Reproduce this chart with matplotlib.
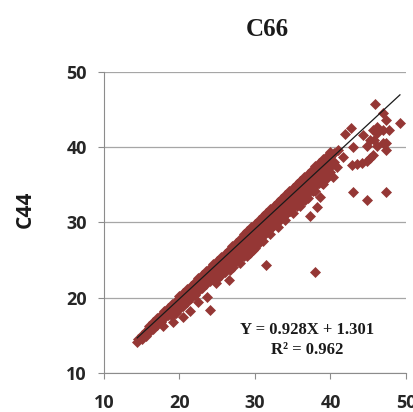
import numpy as np
import matplotlib
matplotlib.use('Agg')
import matplotlib.pyplot as plt

# dense band (upper row first)
band_x0 = [16, 16.5, 17, 17.5, 18, 18.5, 19, 19.5,
           20, 20.5, 21, 21.5, 22, 22.5, 23, 23.5, 24, 24.5, 25, 25.5, 26, 26.5, 27, 27.5,
           28, 28.5, 29, 29.5, 30, 30.5, 31, 31.5, 32, 32.5, 33, 33.5, 34, 34.5, 35, 35.5,
           36, 36.5, 37, 37.5, 38, 38.5, 39, 39.5, 40]
band_y0 = [16.30, 16.78, 17.25, 17.72, 18.20, 18.67, 19.14, 19.62,
           20.19, 20.66, 21.14, 21.61, 22.08, 22.56, 23.03, 23.50, 23.98, 24.45, 24.93, 25.40,
           25.87, 26.35, 26.82, 27.29, 27.77, 28.44, 28.91, 29.39, 29.86, 30.33, 30.81, 31.28,
           31.75, 32.23, 32.70, 33.17, 33.65, 34.12, 34.60, 35.07, 35.54, 36.02, 36.49, 36.96,
           37.44, 37.91, 38.38, 38.86, 39.33]

band_x1 = [14.5, 15, 15.5, 16, 16.5, 17, 17.5, 18, 18.5, 19, 19.5, 20, 20.5, 21, 21.5, 22,
           22.5, 23, 23.5, 24, 24.5, 25, 25.5, 26, 26.5, 27, 27.5, 28, 28.5, 29, 29.5, 30,
           30.5, 31, 31.5, 32, 32.5, 33, 33.5, 34, 34.5, 35, 35.5, 36, 36.5, 37, 37.5, 38,
           38.5, 39, 39.5, 40, 40.5, 41.0]
band_y1 = [14.58, 15.06, 15.53, 16.00, 16.48, 16.95, 17.42, 17.90, 18.37, 18.84, 19.32, 19.79,
           20.26, 20.74, 21.21, 21.68, 22.16, 22.63, 23.10, 23.58, 24.05, 24.53, 25.00, 25.47,
           25.95, 26.42, 26.89, 27.37, 27.84, 28.31, 28.79, 29.26, 29.73, 30.21, 30.68, 31.15,
           31.63, 32.10, 32.57, 33.05, 33.52, 34.00, 34.47, 34.94, 35.42, 35.89, 36.36, 36.84,
           37.31, 37.78, 38.26, 38.73, 39.2, 39.6]

band_x2 = [15, 15.5, 16, 16.5, 17, 17.5, 18, 18.5, 19, 19.5, 20, 20.5, 21, 21.5, 22, 22.5,
           23, 23.5, 24, 24.5, 25, 25.5, 26, 26.5, 27, 27.5, 28, 28.5, 29, 29.5, 30, 30.5,
           31, 31.5, 32, 32.5, 33, 33.5, 34, 34.5, 35, 35.5, 36, 36.5, 37, 37.5, 38, 38.5,
           39, 39.5, 40]
band_y2 = [14.46, 14.93, 15.40, 15.88, 16.35, 16.82, 17.30, 17.77, 18.24, 18.72, 19.19, 19.66,
           20.14, 20.61, 21.08, 21.56, 22.03, 22.50, 22.98, 23.45, 23.93, 24.40, 24.87, 25.35,
           25.82, 26.29, 26.77, 27.24, 27.71, 28.19, 28.66, 29.13, 29.61, 30.08, 30.55, 31.03,
           31.50, 31.97, 32.45, 32.92, 33.40, 33.87, 34.34, 34.82, 35.29, 35.76, 36.24, 36.71,
           37.18, 37.66, 38.13]

band_x3 = [19, 19.5, 20, 20.5, 21, 21.5, 22, 22.5, 23, 23.5, 24, 24.5, 25, 25.5, 26, 26.5,
           27, 27.5, 28, 28.5, 29, 29.5, 30, 30.5, 31, 31.5, 32, 32.5, 33, 33.5, 34, 34.5,
           35, 35.5, 36, 36.5, 37, 37.5, 38, 38.5, 39, 39.5, 40]
band_y3 = [17.54, 18.02, 18.49, 18.96, 19.44, 19.91, 20.38, 20.86, 21.33, 21.80, 22.28, 22.75,
           23.23, 23.70, 24.17, 24.65, 25.12, 25.59, 26.07, 26.54, 27.01, 27.49, 27.96, 28.43,
           28.91, 29.38, 29.85, 30.33, 30.80, 31.27, 31.75, 32.22, 32.70, 33.17, 33.64, 34.12,
           34.59, 35.06, 35.54, 36.01, 36.48, 36.96, 37.43]

band_x4 = [25, 25.5, 26, 26.5, 27, 27.5, 28, 28.5, 29, 29.5, 30, 30.5, 31, 31.5, 32, 32.5,
           33, 33.5, 34, 34.5, 35, 35.5, 36, 36.5, 37, 37.5, 38, 38.5, 39, 39.5, 40]
band_y4 = [22.53, 23.00, 23.47, 23.95, 24.42, 24.89, 25.37, 25.84, 26.31, 26.79, 27.26, 27.73,
           28.21, 28.68, 29.15, 29.63, 30.10, 30.57, 31.05, 31.52, 32.00, 32.47, 32.94, 33.42,
           33.89, 34.36, 34.84, 35.31, 35.78, 36.26, 36.73]

band_x5 = [28, 29, 30, 31, 32, 33, 34, 35, 36, 37, 38, 39]
band_y5 = [24.67, 25.61, 26.56, 27.51, 28.45, 29.40, 30.35, 31.30, 32.24, 33.19, 34.14, 35.08]

# steps on the lower edge of the band
step_x = [14.4, 17.8, 19.2, 20.5, 21.4, 22.4, 24.9, 26.7, 27.1, 28.0, 28.6, 29.3, 29.8, 30.5,
          31.5, 32.4, 33.2, 34.0, 34.6, 35.5, 36.0, 36.6, 37.3, 37.7, 38.6, 38.2, 37.3, 38.9,
          39.4, 40.3, 40.8, 41.7, 40.5]
step_y = [14.1, 16.2, 16.8, 17.5, 18.2, 19.4, 22.0, 23.7, 24.1, 25.3, 25.6, 25.9, 26.3, 27.3,
          28.8, 29.5, 30.3, 31.0, 31.5, 32.2, 32.6, 33.0, 34.6, 34.2, 33.4, 32.1, 30.8, 35.2,
          35.8, 36.1, 37.4, 38.7, 38.0]

# scattered points away from the band
out_x = [23.6, 24.0, 26.6, 31.5, 37.9, 41.9, 42.7, 43.0, 42.8, 43.5, 44.2, 44.8, 45.3, 45.6,
         44.8, 45.2, 46.1, 45.6, 46.1, 47.0, 47.4, 47.4, 47.0, 47.7, 47.0, 47.4, 45.9, 49.2,
         44.3, 46.1, 45.7, 43.0, 44.8, 47.4]
out_y = [20.1, 18.4, 22.3, 24.3, 23.4, 41.8, 42.5, 40.0, 37.6, 37.8, 37.9, 38.2, 38.6, 39.0,
         40.1, 41.0, 40.1, 42.3, 41.9, 42.3, 40.6, 39.6, 40.6, 42.3, 44.5, 43.6, 45.8, 43.2,
         41.6, 42.7, 41.0, 34.1, 33.0, 34.1]

slope, intercept = 0.928, 1.301
r2 = 0.962

xs = np.array(band_x0 + band_x1 + band_x2 + band_x3 + band_x4 + band_x5 + step_x + out_x)
ys = np.array(band_y0 + band_y1 + band_y2 + band_y3 + band_y4 + band_y5 + step_y + out_y)

red = '#953735'
fig = plt.figure(figsize=(4.13, 4.12), dpi=100)
ax = fig.add_axes([0.2518, 0.0947, 0.7312, 0.7306])

ax.plot(xs, ys, linestyle='none', marker='D', ms=5.5, mfc=red, mec=red, mew=0.5, zorder=3)

# trend line over the data range
lx = np.array([xs.min(), xs.max()])
ax.plot(lx, slope * lx + intercept, color='#1a1a1a', lw=0.9, zorder=4)

ax.set_xlim(10, 50)
ax.set_ylim(10, 50)
ax.set_xticks([10, 20, 30, 40, 50])
ax.set_yticks([10, 20, 30, 40, 50])
ax.yaxis.grid(True, color='#a6a6a6', lw=0.9)
ax.set_axisbelow(True)
for s in ['top', 'right']:
    ax.spines[s].set_visible(False)
for s in ['left', 'bottom']:
    ax.spines[s].set_color('#8c8c8c')
ax.tick_params(axis='both', direction='out', length=4.3, color='#8c8c8c', labelsize=13,
               labelcolor='#262626')
ax.tick_params(axis='x', pad=11)
ax.tick_params(axis='y', pad=8)
for lab in ax.get_xticklabels() + ax.get_yticklabels():
    lab.set_fontfamily('Open Sans')
    lab.set_fontweight('bold')

ax.text(36.9, 15.7, 'Y = %.3fX + %.3f' % (slope, intercept), ha='center', va='center',
        family='Liberation Serif', fontweight='bold', fontsize=12, color='#1a1a1a')
ax.text(36.9, 13.06, 'R² = %.3f' % r2, ha='center', va='center',
        family='Liberation Serif', fontweight='bold', fontsize=12, color='#1a1a1a')

fig.text(267 / 413, 1 - 30 / 412, 'C66', ha='center', va='center',
         family='Liberation Serif', fontweight='bold', fontsize=18, color='#1a1a1a')
fig.text(25 / 413, 1 - 209 / 412, 'C44', ha='center', va='center', rotation=90,
         family='Open Sans', fontweight='bold', fontsize=15, color='#1a1a1a')

fig.savefig('out.png', dpi=100)
